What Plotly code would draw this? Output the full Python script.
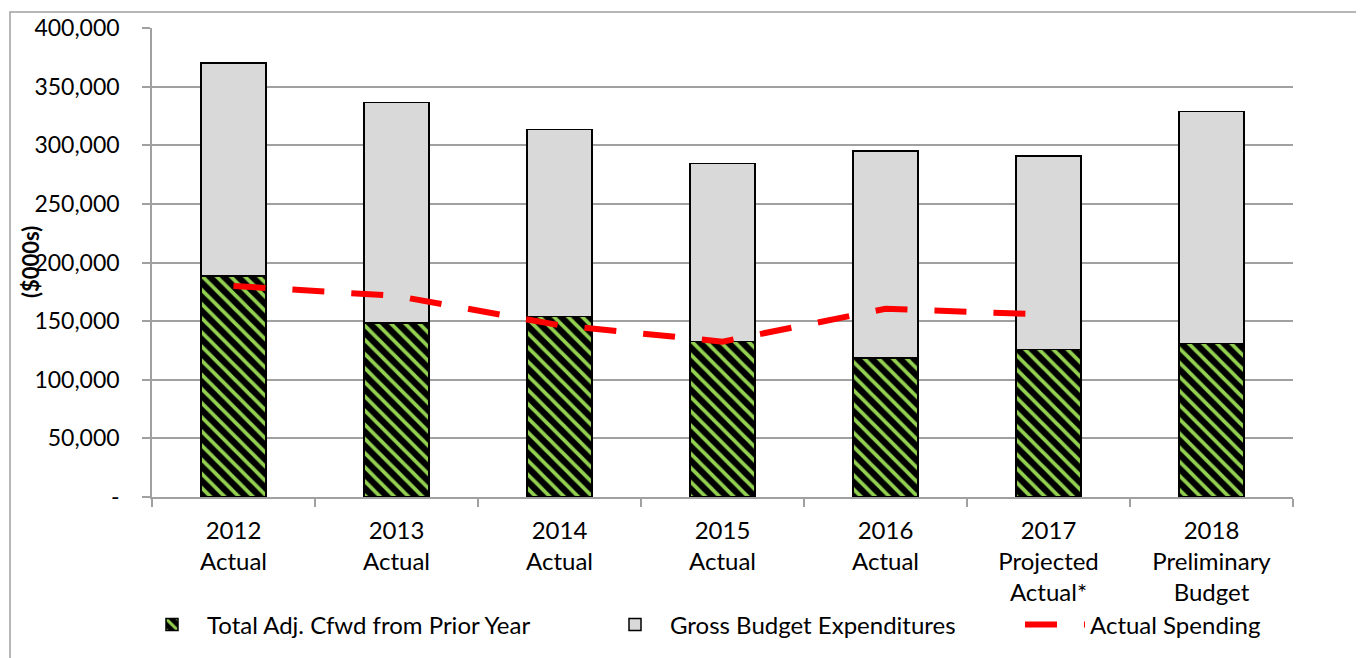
import plotly.graph_objects as go

categories = ["2012<br>Actual", "2013<br>Actual", "2014<br>Actual", "2015<br>Actual",
              "2016<br>Actual", "2017<br>Projected<br>Actual*", "2018<br>Preliminary<br>Budget"]
cfwd = [188500, 148500, 154000, 132500, 118500, 126000, 131000]
total = [370000, 336500, 313500, 284500, 295000, 291000, 329000]
gross = [t - c for t, c in zip(total, cfwd)]
actual_spending = [180000, 171500, 146500, 132500, 160500, 155500, None]

y_tickvals = [0, 50000, 100000, 150000, 200000, 250000, 300000, 350000, 400000]
y_ticktext = ["-", "50,000", "100,000", "150,000", "200,000", "250,000", "300,000", "350,000", "400,000"]

FONT = "Lato"
OFF = 8                     # page offset of the figure inside the window
W, H = 1364 - OFF, 658 - OFF
# plot area in window pixels
L, R, T, B = 152, 1293, 28, 497

def px(x):
    return (x - L) / (R - L)

def py(y):
    return (B - y) / (B - T)

def cx(x):
    return (x - OFF) / W

def cy(y):
    return 1 - (y - OFF) / H

fig = go.Figure()
fig.add_trace(go.Bar(
    x=categories, y=cfwd, name="Total Adj. Cfwd from Prior Year",
    marker=dict(color="black", line=dict(color="black", width=1.5),
                pattern=dict(shape="\\", fgcolor="#92D050", bgcolor="black",
                             size=10, solidity=0.38, fillmode="replace")),
    legend="legend", showlegend=True,
))
fig.add_trace(go.Bar(
    x=categories, y=gross, name="Gross Budget Expenditures",
    marker=dict(color="#D9D9D9", line=dict(color="black", width=1.5)),
    legend="legend2", showlegend=True,
))
fig.add_trace(go.Scatter(
    x=categories, y=actual_spending, name="Actual Spending", mode="lines",
    line=dict(color="#FF0000", width=6, dash="32px,27px"),
    legend="legend3", showlegend=True,
))

leg_common = dict(orientation="h", yanchor="middle", xanchor="left",
                  xref="container", yref="container",
                  font=dict(family=FONT, size=24, color="black"),
                  bgcolor="rgba(0,0,0,0)", itemwidth=60)
fig.update_layout(
    width=W, height=H, showlegend=True,
    margin=dict(l=L - OFF, r=W - (R - OFF), t=T - OFF, b=H - (B - OFF), autoexpand=False),
    paper_bgcolor="white", plot_bgcolor="white",
    barmode="stack", bargap=0.6,
    font=dict(family=FONT, size=22, color="black"),
    legend=dict(x=cx(137), y=cy(625), **leg_common),
    legend2=dict(x=cx(600), y=cy(625), **leg_common),
    legend3=dict(x=cx(1020), y=cy(625), **leg_common),
    xaxis=dict(showgrid=False, showline=True, linecolor="#A0A0A0", linewidth=1.5,
               ticks="outside", ticklen=8, tickcolor="#A0A0A0", tickwidth=1.5,
               tickson="boundaries", ticklabelstandoff=11,
               tickfont=dict(family=FONT, size=24, color="black")),
    yaxis=dict(range=[0, 400000], tickvals=y_tickvals, ticktext=y_ticktext,
               showgrid=True, gridcolor="#A0A0A0", gridwidth=1.5,
               showline=True, linecolor="#A0A0A0", linewidth=1.5,
               ticks="outside", ticklen=8, tickcolor="#A0A0A0", tickwidth=1.5,
               ticklabelstandoff=18, zeroline=False,
               tickfont=dict(family=FONT, size=23, color="black")),
    annotations=[dict(text="<b>($000s)</b>", textangle=-90, xref="paper", yref="paper",
                      x=px(30), y=py(262), xanchor="center", yanchor="middle",
                      showarrow=False, font=dict(family=FONT, size=22, color="black"))],
    shapes=[dict(type="rect", xref="paper", yref="paper",
                 x0=px(10), y0=py(700), x1=px(1400), y1=py(12),
                 line=dict(color="#A0A0A0", width=1.5), fillcolor="rgba(0,0,0,0)", layer="below")],
)
fig.write_html("out.html")
